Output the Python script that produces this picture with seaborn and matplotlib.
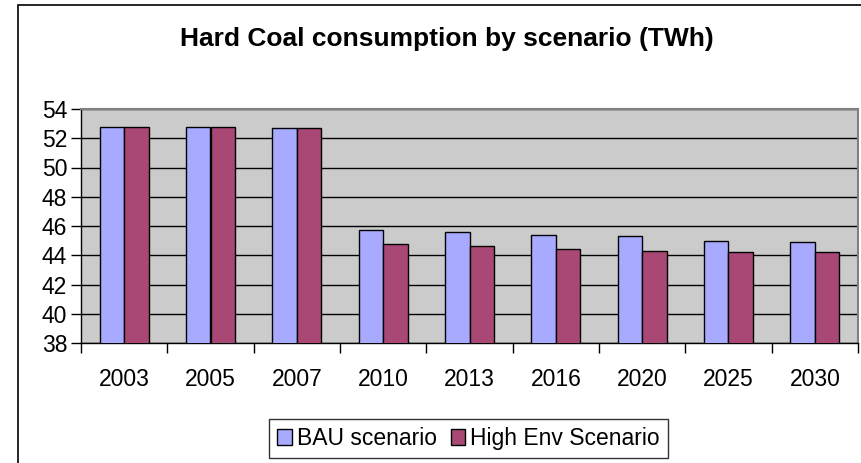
import pandas as pd
import matplotlib.pyplot as plt
import seaborn as sns
from matplotlib.patches import Rectangle

# data
years = ['2003', '2005', '2007', '2010', '2013', '2016', '2020', '2025', '2030']
bau = [52.8, 52.8, 52.7, 45.7, 45.6, 45.4, 45.3, 45.0, 44.9]
high_env = [52.8, 52.8, 52.7, 44.8, 44.6, 44.4, 44.3, 44.2, 44.2]
series_names = ['BAU scenario', 'High Env Scenario']

df = pd.DataFrame({
    'year': years * 2,
    'value': bau + high_env,
    'scenario': [series_names[0]] * len(years) + [series_names[1]] * len(years),
})

plt.rcParams['font.family'] = ['Liberation Sans', 'DejaVu Sans']

fig = plt.figure(figsize=(8.61, 4.63), dpi=100)
ax = fig.add_axes([81 / 861, 1 - 343 / 463, (858 - 81) / 861, (343 - 109) / 463])

# chart border (cut off on the right and bottom like the original)
fig.patches.append(Rectangle((17.5 / 861, -0.1), 1.2, 1.1 - 5 / 463, transform=fig.transFigure,
                             fill=False, edgecolor='black', linewidth=1.2, zorder=0))

sns.barplot(data=df, x='year', y='value', hue='scenario', ax=ax, width=0.57,
            palette=['#A8AAFF', '#AA4875'], edgecolor='black', linewidth=1.0,
            saturation=1, zorder=3)

ax.set_facecolor('#CBCBCB')
ax.set_ylim(38, 54)
ax.set_xlim(-0.5, len(years) - 0.5)
ax.set_yticks(range(38, 55, 2))
ax.yaxis.grid(True, color='black', linewidth=1.0, zorder=1)
ax.set_axisbelow(True)
ax.set_xlabel('')
ax.set_ylabel('')

# ticks between the categories, labels in the middle
ax.set_xticks([i - 0.5 for i in range(len(years) + 1)], minor=True)
ax.tick_params(axis='x', which='major', length=0, pad=18, labelsize=16.5)
ax.tick_params(axis='x', which='minor', length=7, width=1, direction='out')
ax.tick_params(axis='y', length=7, width=1, direction='out', pad=3, labelsize=16.5)

for side in ['top', 'right']:
    ax.spines[side].set_color('#808080')
    ax.spines[side].set_linewidth(1.5)
for side in ['left', 'bottom']:
    ax.spines[side].set_color('black')
    ax.spines[side].set_linewidth(1.0)

fig.text(447 / 861, 1 - 39 / 463, 'Hard Coal consumption by scenario (TWh)',
         ha='center', va='center', fontsize=19, fontweight='bold')

ax.legend_.remove()
handles, labels = ax.get_legend_handles_labels()
leg = fig.legend(handles, labels, loc='center', bbox_to_anchor=(468.5 / 861, 1 - 438.5 / 463),
                 ncol=2, fontsize=16.5, frameon=True, fancybox=False, edgecolor='black',
                 handlelength=0.65, handleheight=0.65, handletextpad=0.2, columnspacing=0.6,
                 borderpad=0.35, borderaxespad=0)
leg.get_frame().set_linewidth(1.0)

plt.savefig('out.png', dpi=100)
